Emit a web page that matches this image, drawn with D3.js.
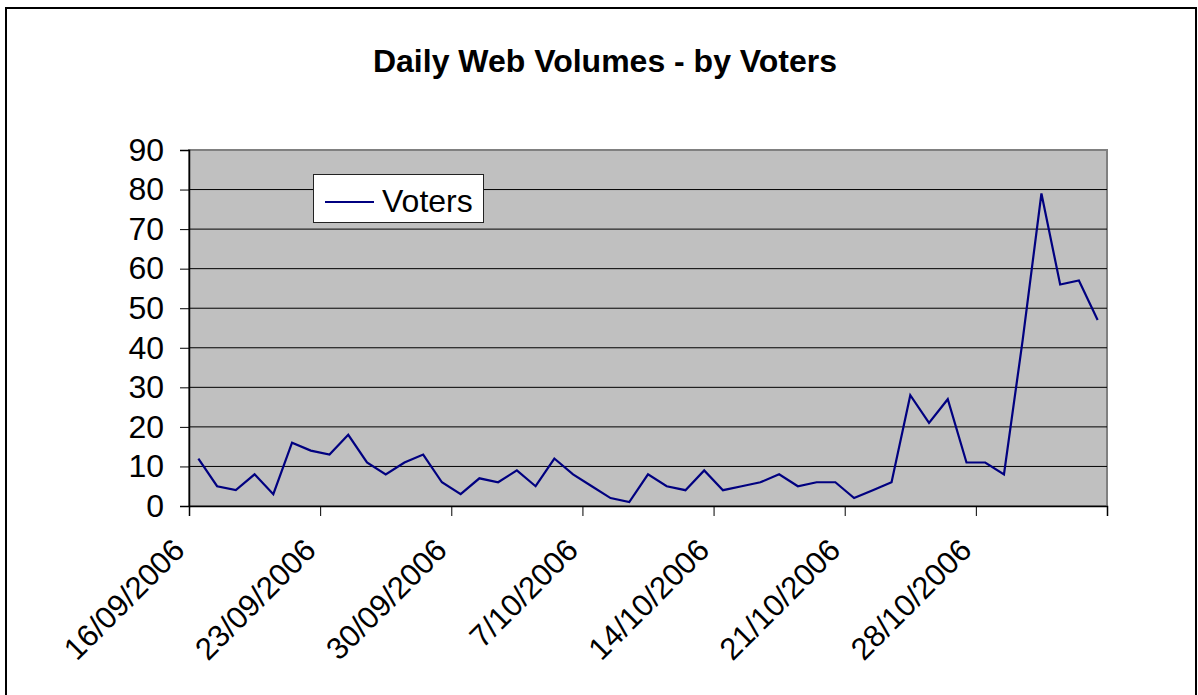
<!DOCTYPE html>
<html><head><meta charset="utf-8">
<script src="https://cdn.jsdelivr.net/npm/d3@7"></script>
<style>body{margin:0;background:#fff}svg{display:block}text{font-family:"Liberation Sans",Arial,sans-serif}</style>
</head><body><svg id="c" width="1198" height="695"></svg>
<script>
const title = "Daily Web Volumes - by Voters";
const seriesName = "Voters";
const startDate = "2006-09-16";
const voters = [12,5,4,8,3,16,14,13,18,11,8,11,13,6,3,7,6,9,5,12,8,5,2,1,8,5,4,9,4,5,6,8,5,6,6,2,4,6,28,21,27,11,11,8,42,79,56,57,47];
const yTicks = [0,10,20,30,40,50,60,70,80,90];
const xTickLabels = ["16/09/2006","23/09/2006","30/09/2006","7/10/2006","14/10/2006","21/10/2006","28/10/2006",""];

const svg = d3.select("#c");
const M = {left:189, right:1107, top:150, bottom:506};
const start = d3.utcParse("%Y-%m-%d")(startDate);
const dates = d3.range(voters.length).map(i => d3.utcDay.offset(start, i));
const end = d3.utcDay.offset(start, voters.length);
const x = d3.scaleUtc().domain([start, end]).range([M.left, M.right]);
const y = d3.scaleLinear().domain([0, 90]).range([M.bottom, M.top]);
const FS = 32;

// outer frame
svg.append("rect").attr("x",6).attr("y",8).attr("width",1190).attr("height",700)
  .attr("fill","#fff").attr("stroke","#000").attr("stroke-width",2);

svg.append("text").attr("x",605).attr("y",72).attr("text-anchor","middle")
  .attr("font-size",FS).attr("font-weight","bold").text(title);

// plot area
svg.append("rect").attr("x",M.left).attr("y",M.top).attr("width",M.right-M.left).attr("height",M.bottom-M.top)
  .attr("fill","#c0c0c0").attr("stroke","#808080").attr("stroke-width",2);

// gridlines
svg.append("g").selectAll("line").data(yTicks.filter(v => v>0 && v<90)).join("line")
  .attr("x1",M.left).attr("x2",M.right).attr("y1",d=>y(d)).attr("y2",d=>y(d))
  .attr("stroke","#000").attr("stroke-width",1);

// y axis
const yAxis = svg.append("g").attr("transform",`translate(${M.left},0)`)
  .call(d3.axisLeft(y).tickValues(yTicks).tickSize(9).tickPadding(16));
yAxis.select(".domain").attr("stroke","#000").attr("stroke-width",1.5);
yAxis.selectAll(".tick line").attr("stroke","#000");
yAxis.selectAll("text").attr("font-size",FS).attr("fill","#000").attr("font-family","Liberation Sans, Arial, sans-serif");

// x axis
const xTickDates = d3.range(xTickLabels.length).map(i => d3.utcDay.offset(start, i*7));
const xAxis = svg.append("g").attr("transform",`translate(0,${M.bottom})`)
  .call(d3.axisBottom(x).tickValues(xTickDates).tickSize(10).tickFormat((d,i)=>xTickLabels[i]));
xAxis.select(".domain").attr("stroke","#000").attr("stroke-width",1.5);
xAxis.selectAll(".tick line").attr("stroke","#000");
xAxis.selectAll("text").attr("font-size",31).attr("fill","#000")
  .attr("font-family","Liberation Sans, Arial, sans-serif")
  .attr("text-anchor","end").attr("dy",null).attr("y",0)
  .attr("transform","translate(-3,46) rotate(-45)");

// line
const line = d3.line().x((d,i)=>x(d3.utcHour.offset(dates[i],12))).y(d=>y(d));
svg.append("path").datum(voters).attr("d",line).attr("fill","none")
  .attr("stroke","#000080").attr("stroke-width",2.2).attr("stroke-linejoin","miter");

// legend
const lg = svg.append("g");
lg.append("rect").attr("x",313.5).attr("y",174.5).attr("width",170).attr("height",48)
  .attr("fill","#fff").attr("stroke","#222").attr("stroke-width",1);
lg.append("line").attr("x1",325).attr("x2",374).attr("y1",202).attr("y2",202)
  .attr("stroke","#000080").attr("stroke-width",2);
lg.append("text").attr("x",382).attr("y",212).attr("font-size",FS).text(seriesName);
</script></body></html>
